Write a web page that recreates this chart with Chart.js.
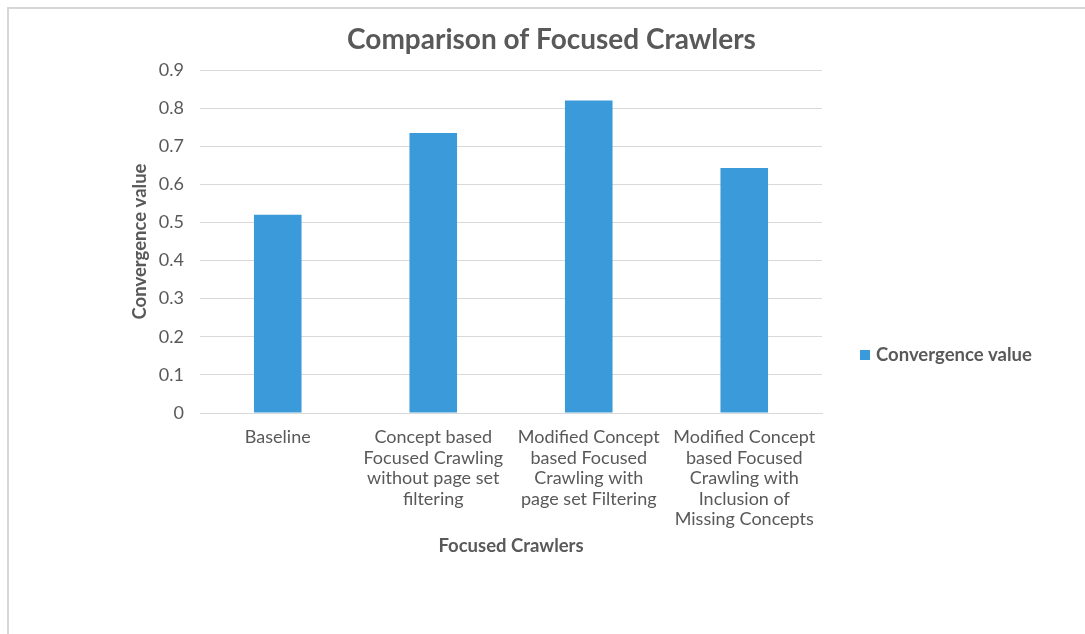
<!DOCTYPE html>
<html lang="en">
<head>
    <meta charset="UTF-8">
    <title>Comparison of Focused Crawlers</title>
    <script src="https://cdn.jsdelivr.net/npm/chart.js"></script>
    <style>
        body {
            margin: 0;
            background: #ffffff;
            overflow: hidden;
        }
        /* light grey frame, only top and left edges are visible in the window */
        .frame {
            position: absolute;
            left: 7px;
            top: 7px;
            width: 1200px;
            height: 700px;
            border-top: 2px solid #d6d6d6;
            border-left: 2px solid #d6d6d6;
        }
        #chart-box {
            position: absolute;
            left: 0;
            top: 0;
            width: 1085px;
            height: 634px;
        }
    </style>
</head>
<body>
    <div class="frame"></div>
    <div id="chart-box">
        <canvas id="crawler-chart"></canvas>
    </div>

    <script>
        const categories = [
            "Baseline",
            ["Concept based", "Focused Crawling", "without page set", "filtering"],
            ["Modified Concept", "based Focused", "Crawling with", "page set Filtering"],
            ["Modified Concept", "based Focused", "Crawling with", "Inclusion of", "Missing Concepts"]
        ];
        const convergenceValues = [0.52, 0.735, 0.82, 0.643];
        const yTicks = [0, 0.1, 0.2, 0.3, 0.4, 0.5, 0.6, 0.7, 0.8, 0.9];

        const textGray = "#595959";
        const gridGray = "#d9d9d9";
        const barBlue = "#3b9ad9";
        const fontName = "Lato, 'Open Sans', sans-serif";

        // Excel style legend sitting on the right, below the middle
        const sideLegend = {
            id: "sideLegend",
            afterDraw(chart) {
                const ctx = chart.ctx;
                const ds = chart.data.datasets[0];
                ctx.save();
                ctx.fillStyle = ds.backgroundColor;
                ctx.fillRect(860, 350, 10, 10);
                ctx.fillStyle = textGray;
                ctx.font = "bold 18.5px " + fontName;
                ctx.textBaseline = "middle";
                ctx.textAlign = "left";
                ctx.fillText(ds.label, 876, 355);
                ctx.restore();
            }
        };

        const ctx = document.getElementById("crawler-chart").getContext("2d");
        const crawlerChart = new Chart(ctx, {
            type: "bar",
            data: {
                labels: categories,
                datasets: [{
                    label: "Convergence value",
                    data: convergenceValues,
                    backgroundColor: barBlue,
                    categoryPercentage: 1,
                    barPercentage: 0.306
                }]
            },
            options: {
                responsive: true,
                maintainAspectRatio: false,
                animation: false,
                layout: { padding: { left: 18, right: 0, top: 0, bottom: 0 } },
                plugins: {
                    legend: { display: false },
                    tooltip: { enabled: false },
                    title: {
                        display: true,
                        text: "Comparison of Focused Crawlers",
                        color: textGray,
                        font: { family: fontName, size: 28, weight: "bold", lineHeight: 1.2 },
                        padding: { top: 23.2, bottom: 13.2 }
                    }
                },
                scales: {
                    x: {
                        grid: { display: false },
                        border: { display: true, color: gridGray, width: 1 },
                        ticks: {
                            color: textGray,
                            font: { family: fontName, size: 18, lineHeight: 1.14 },
                            padding: 6,
                            maxRotation: 0,
                            autoSkip: false
                        },
                        title: {
                            display: true,
                            text: "Focused Crawlers",
                            color: textGray,
                            font: { family: fontName, size: 18.5, weight: "bold", lineHeight: 1.2 },
                            padding: { top: 0, bottom: 76.9 }
                        },
                        afterFit: s => { s.height = 221; }
                    },
                    y: {
                        min: 0,
                        max: 0.9,
                        afterBuildTicks: s => { s.ticks = yTicks.map(v => ({ value: v })); },
                        grid: { color: gridGray, lineWidth: 1, drawTicks: false },
                        border: { display: false },
                        ticks: {
                            color: textGray,
                            font: { family: fontName, size: 18 },
                            padding: 16,
                            callback: v => String(Math.round(v * 10) / 10)
                        },
                        title: {
                            display: true,
                            text: "Convergence value",
                            color: textGray,
                            font: { family: fontName, size: 18.5, weight: "bold", lineHeight: 1.2 },
                            padding: { top: 110.9, bottom: 0 }
                        },
                        afterFit: s => { s.width = 182; }
                    },
                    // empty axis that keeps the space on the right for the legend
                    side: {
                        position: "right",
                        display: true,
                        grid: { display: false },
                        border: { display: false },
                        ticks: { display: false },
                        afterFit: s => { s.width = 263; }
                    }
                }
            },
            plugins: [sideLegend]
        });
    </script>
</body>
</html>
